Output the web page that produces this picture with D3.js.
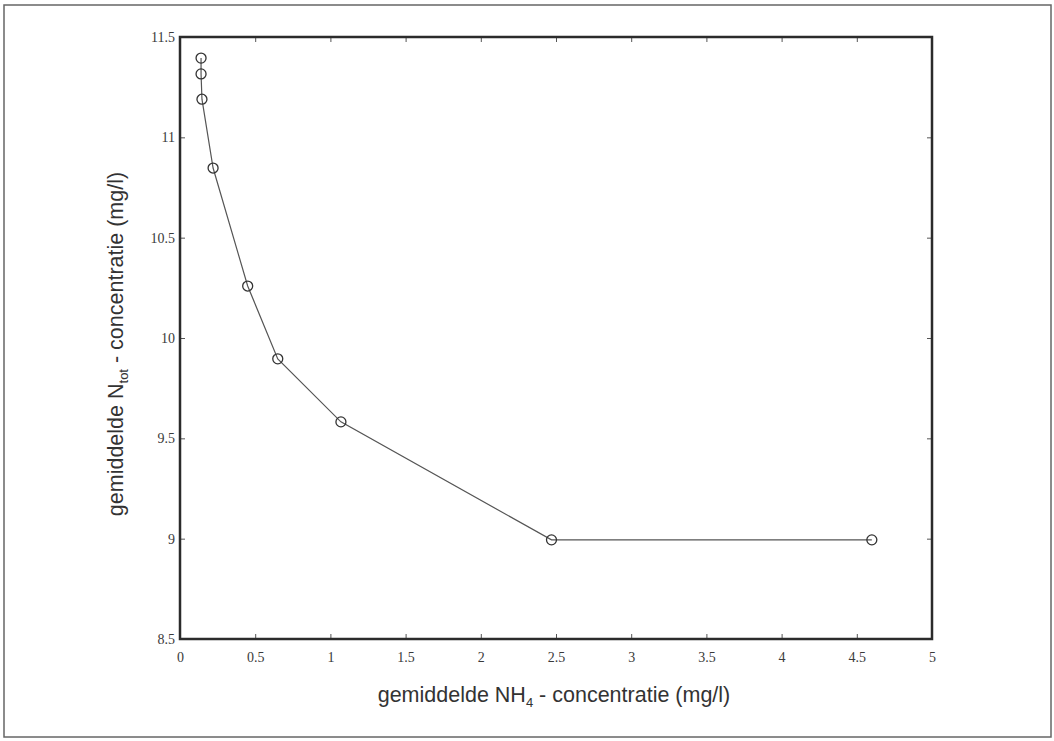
<!DOCTYPE html>
<html lang="nl">
  <head>
    <meta charset="utf-8" />
    <script src="https://d3js.org/d3.v7.min.js"></script>
    <style>
      body { margin: 0; background: #fff; }
      .tick text { font-family: "Liberation Serif", serif; font-size: 14px; fill: #3a3a3a; }
      .label { font-family: "Liberation Sans", Arial, sans-serif; font-size: 21.5px; fill: #333; }
    </style>
  </head>
  <body>
    <svg id="chart" width="1054" height="741"></svg>
    <script>
      // gemiddelde NH4 (x) en N-tot (y) concentraties, mg/l
      const nh4 = [0.14, 0.14, 0.146, 0.22, 0.45, 0.65, 1.07, 2.47, 4.6];
      const ntot = [11.395, 11.316, 11.19, 10.847, 10.259, 9.896, 9.582, 8.994, 8.994];
      const xTicks = [0, 0.5, 1, 1.5, 2, 2.5, 3, 3.5, 4, 4.5, 5];
      const yTicks = [8.5, 9, 9.5, 10, 10.5, 11, 11.5];

      const svg = d3.select("#chart");
      const margin = {top: 37, right: 122, bottom: 102, left: 180};
      const width = +svg.attr("width");
      const height = +svg.attr("height");
      const w = width - margin.left - margin.right;
      const h = height - margin.top - margin.bottom;

      // outer frame
      svg.append("rect")
        .attr("x", 4).attr("y", 5)
        .attr("width", 1047).attr("height", 732)
        .attr("fill", "none").attr("stroke", "#666").attr("stroke-width", 1.5);

      const g = svg.append("g")
        .attr("transform", "translate(" + margin.left + "," + margin.top + ")");

      const x = d3.scaleLinear().domain([0, 5]).range([0, w]);
      const y = d3.scaleLinear().domain([8.5, 11.5]).range([h, 0]);

      const fmt = d => String(d);

      g.append("g").attr("class", "x axis")
        .attr("transform", "translate(0," + h + ")")
        .call(d3.axisBottom(x).tickValues(xTicks).tickFormat(fmt).tickSize(-5).tickPadding(13))
        .call(a => a.select(".domain").remove())
        .call(a => a.selectAll("line").attr("stroke", "#555"));

      g.append("g").attr("class", "y axis")
        .call(d3.axisLeft(y).tickValues(yTicks).tickFormat(fmt).tickSize(-5).tickPadding(5))
        .call(a => a.select(".domain").remove())
        .call(a => a.selectAll("line").attr("stroke", "#555"));

      g.append("g")
        .call(d3.axisTop(x).tickValues(xTicks).tickFormat("").tickSize(-5))
        .call(a => a.select(".domain").remove())
        .call(a => a.selectAll("line").attr("stroke", "#555"));

      g.append("g")
        .attr("transform", "translate(" + w + ",0)")
        .call(d3.axisRight(y).tickValues(yTicks).tickFormat("").tickSize(-5))
        .call(a => a.select(".domain").remove())
        .call(a => a.selectAll("line").attr("stroke", "#555"));

      // plot frame
      g.append("rect")
        .attr("width", w).attr("height", h)
        .attr("fill", "none").attr("stroke", "#2b2b2b").attr("stroke-width", 2.5);

      const pts = nh4.map((v, i) => ({x: v, y: ntot[i]}));

      g.append("path")
        .datum(pts)
        .attr("fill", "none")
        .attr("stroke", "#555")
        .attr("stroke-width", 1.2)
        .attr("d", d3.line().x(d => x(d.x)).y(d => y(d.y)));

      g.selectAll("circle.point")
        .data(pts)
        .join("circle")
        .attr("class", "point")
        .attr("cx", d => x(d.x))
        .attr("cy", d => y(d.y))
        .attr("r", 5)
        .attr("fill", "none")
        .attr("stroke", "#333")
        .attr("stroke-width", 1.3);

      // axis labels
      const xl = svg.append("text").attr("class", "label")
        .attr("x", 554).attr("y", 702)
        .attr("text-anchor", "middle");
      xl.append("tspan").text("gemiddelde NH");
      xl.append("tspan").attr("dy", 5).attr("font-size", 13).text("4");
      xl.append("tspan").attr("dy", -5).text(" - concentratie (mg/l)");

      const yl = svg.append("text").attr("class", "label")
        .attr("text-anchor", "middle")
        .attr("transform", "translate(123,344) rotate(-90)");
      yl.append("tspan").text("gemiddelde N");
      yl.append("tspan").attr("dy", 5).attr("font-size", 13).text("tot");
      yl.append("tspan").attr("dy", -5).text(" - concentratie (mg/l)");
    </script>
  </body>
</html>
